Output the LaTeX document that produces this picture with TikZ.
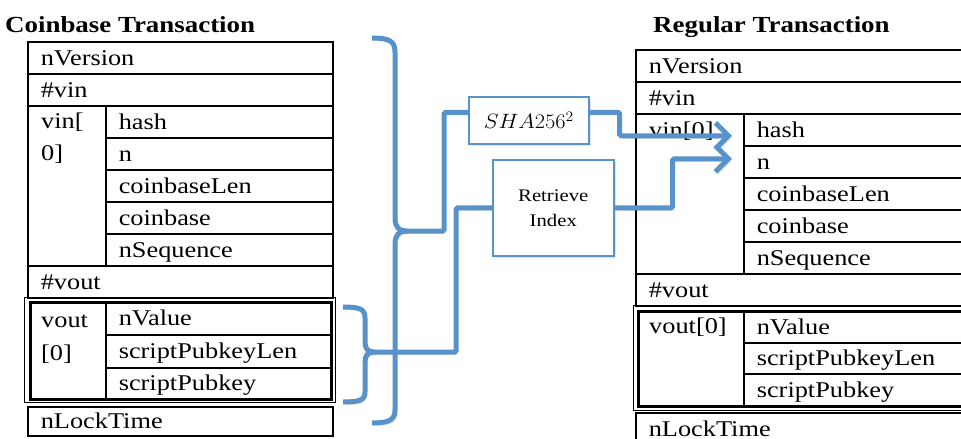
\documentclass[tikz,border=0pt]{standalone}
\usepackage{fontspec}
\setmainfont{Liberation Serif}[FakeStretch=1.17]
\usepackage{graphicx}
\usetikzlibrary{arrows.meta,shadows}
\definecolor{lblue}{RGB}{88,146,203}
\begin{document}
\begin{tikzpicture}[x=1pt,y=-1pt,
  cell/.style={draw, line width=1.6pt, anchor=north west, inner xsep=13pt, inner ysep=0pt,
    align=left, text height=15pt, text depth=0pt, font=\fontsize{22.5}{27}\selectfont},
  full/.style={text width=279pt, minimum height=#1},
  sub/.style={text width=201pt, minimum height=#1},
  rfull/.style={text width=314pt, minimum height=#1},
  rsub/.style={text width=206pt, minimum height=#1},
  blank/.style={draw, line width=1.6pt, anchor=north west, inner sep=0pt},
  lbl/.style={anchor=base west, inner sep=0pt, align=left},
  ttl/.style={anchor=base west, inner sep=0pt, font=\bfseries\fontsize{23}{27}\selectfont},
  shadowed/.style={preaction={draw=black, opacity=0.18, transform canvas={xshift=2pt,yshift=-2.5pt}}},
  bline/.style={draw=lblue, line width=5pt, rounded corners=1.5pt, shadowed},
  brace/.style={draw=lblue, line width=5pt, shadowed},
  bbox/.style={draw=lblue, line width=1.6pt, fill=white, anchor=north west,
    drop shadow={opacity=0.2, shadow xshift=2pt, shadow yshift=-2.5pt}},
  tip/.style={-{Straight Barb[length=13pt,width=26pt]}}
]
\useasboundingbox (0,0) rectangle (961,439);

% titles
\node[ttl] (t1) at (5,32) {Coinbase Transaction};
\node[ttl] (t2) at (653,32) {Regular Transaction};

% ---- left table
\node[cell, full=32pt] (lVer) at (27,41) {nVersion};
\node[cell, full=32pt] (lVin) at (27,73) {\#vin};
\node[blank, minimum width=78pt, minimum height=160pt] (lVinL) at (27,105) {};
\node[lbl, font=\fontsize{22.5}{32}\selectfont] (lVinT) at (41,160) {vin[\\0]};
\node[cell, sub=32pt] (lHash) at (105,105) {hash};
\node[cell, sub=32pt] (lN) at (105,137) {n};
\node[cell, sub=32pt] (lCbl) at (105,169) {coinbaseLen};
\node[cell, sub=32pt] (lCb) at (105,201) {coinbase};
\node[cell, sub=32pt] (lSeq) at (105,233) {nSequence};
\node[cell, full=32pt] (lVout) at (27,265) {\#vout};
\node[blank, minimum width=76pt, minimum height=97pt] (lVoutL) at (29,301) {};
\node[lbl, font=\fontsize{22.5}{33}\selectfont] (lVoutT) at (41,360) {vout\\{[0]}};
\node[cell, text width=199pt, minimum height=33pt] (lVal) at (105,301) {nValue};
\node[cell, text width=199pt, minimum height=33pt] (lSpl) at (105,334) {scriptPubkeyLen};
\node[cell, text width=199pt, minimum height=31pt] (lSp) at (105,367) {scriptPubkey};
\node[blank, line width=1.4pt, minimum width=311pt, minimum height=105pt] (lOut) at (24,297) {};
\node[blank, line width=3pt, minimum width=301pt, minimum height=97pt] (lIn) at (29,301) {};
\node[cell, full=29pt] (lLock) at (27,406) {nLockTime};

% ---- right table
\node[cell, rfull=32pt] (rVer) at (635,49) {nVersion};
\node[cell, rfull=32pt] (rVin) at (635,81) {\#vin};
\node[blank, minimum width=108pt, minimum height=160pt] (rVinL) at (635,113) {};
\node[lbl, font=\fontsize{22.5}{27}\selectfont] (rVinT) at (649,137) {vin[0]};
\node[cell, rsub=32pt] (rHash) at (743,113) {hash};
\node[cell, rsub=32pt] (rN) at (743,145) {n};
\node[cell, rsub=32pt] (rCbl) at (743,177) {coinbaseLen};
\node[cell, rsub=32pt] (rCb) at (743,209) {coinbase};
\node[cell, rsub=32pt] (rSeq) at (743,241) {nSequence};
\node[cell, rfull=32pt] (rVout) at (635,273) {\#vout};
\node[blank, minimum width=106pt, minimum height=95pt] (rVoutL) at (637,310) {};
\node[lbl, font=\fontsize{22.5}{27}\selectfont] (rVoutT) at (649,333) {vout[0]};
\node[cell, rsub=32pt] (rVal) at (743,310) {nValue};
\node[cell, rsub=31pt] (rSpl) at (743,342) {scriptPubkeyLen};
\node[cell, rsub=32pt] (rSp) at (743,373) {scriptPubkey};
\node[blank, line width=1.4pt, minimum width=350pt, minimum height=105pt] (rOut) at (633,305) {};
\node[blank, line width=3pt, minimum width=340pt, minimum height=95pt] (rIn) at (637,310) {};
\node[cell, rfull=32pt] (rLock) at (635,412) {nLockTime};

% ---- process boxes
\node[bbox, minimum width=120pt, minimum height=47pt] (sha) at (468,96)
  {\scalebox{1.08}[1]{\fontsize{20}{22}\selectfont$SHA256^2$}};
\node[bbox, minimum width=121pt, minimum height=96pt, align=center,
  font=\fontsize{17.7}{25}\selectfont] (ret) at (492,159) {Retrieve\\Index};

% ---- braces
\coordinate (bigtip) at (406,231);
\coordinate (smalltip) at (374,352);
\draw[brace] (372,38) .. controls (389,38) and (395,41) .. (395,52) -- (395,218)
  .. controls (395,227) and (399,231) .. (bigtip)
  .. controls (399,231) and (395,235) .. (395,244) -- (395,410)
  .. controls (395,420) and (389,423) .. (372,423);
\draw[brace] (343,307) .. controls (360,307) and (365,309) .. (365,318) -- (365,342)
  .. controls (365,349) and (368,352) .. (smalltip)
  .. controls (368,352) and (365,355) .. (365,362) -- (365,392)
  .. controls (365,400) and (360,402) .. (343,402);

% ---- connectors
\draw[bline] (bigtip) -| ([xshift=-24pt,yshift=8pt]sha.west) -- ([yshift=8pt]sha.west);
\draw[bline] (smalltip) -| ([xshift=-36pt]ret.west) -- (ret.west);
\draw[bline, tip] ([yshift=8pt]sha.east) -- ++(30,0) |- ([xshift=-11pt,yshift=-6pt]rHash.west);
\draw[bline, tip] (ret.east) -- ++(58,0) |- ([xshift=-11pt,yshift=3pt]rN.west);
\end{tikzpicture}
\end{document}
